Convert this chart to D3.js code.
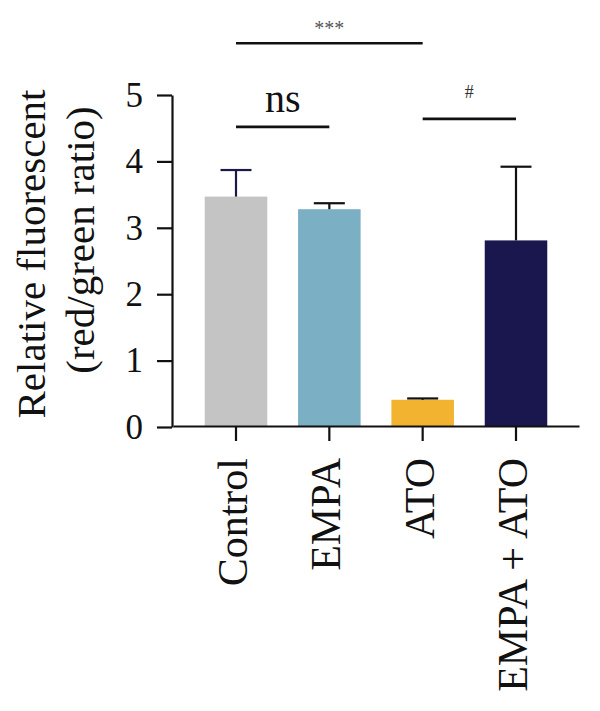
<!DOCTYPE html>
<html>
<head>
<meta charset="utf-8">
<script src="https://cdn.jsdelivr.net/npm/d3@7"></script>
<style>
  body { margin: 0; background: #fff; }
  svg { display: block; font-family: "Liberation Serif", "Times New Roman", serif; }
</style>
</head>
<body>
<div class="chart"></div>
<script>
var groups = ["Control", "EMPA", "ATO", "EMPA + ATO"];
var means = [3.47, 3.28, 0.41, 2.81];
var errors = [0.40, 0.09, 0.02, 1.11];
var colors = ["#c4c4c4", "#7bafc4", "#f2b430", "#1a174f"];
var errColors = ["#1a1a4a", "#111", "#111", "#111"];
var yTicks = [0, 1, 2, 3, 4, 5];

// significance brackets: from group, to group, level (y units), label
var sigFrom = ["Control", "Control", "ATO"];
var sigTo = ["ATO", "EMPA", "EMPA + ATO"];
var sigLevel = [5.78, 4.52, 4.64];
var sigLabel = ["***", "ns", "#"];

var width = 600, height = 711;

var svg = d3.select(".chart")
  .append("svg")
  .attr("width", width)
  .attr("height", height);

var x = d3.scaleBand()
  .domain(groups)
  .range([173, 579])
  .paddingInner(0.33)
  .paddingOuter(0.34);

var y = d3.scaleLinear()
  .domain([0, 5])
  .range([427, 95]);

// bars
svg.selectAll("rect.bar")
  .data(groups)
  .enter()
  .append("rect")
  .classed("bar", true)
  .attr("x", d => x(d))
  .attr("width", x.bandwidth())
  .attr("y", (d, i) => y(means[i]))
  .attr("height", (d, i) => y(0) - y(means[i]))
  .attr("fill", (d, i) => colors[i]);

// error bars (upper only)
var capW = 31;
var err = svg.selectAll("g.err")
  .data(groups)
  .enter()
  .append("g")
  .classed("err", true)
  .attr("stroke", (d, i) => errColors[i])
  .attr("stroke-width", 2.2);

err.append("line")
  .attr("x1", d => x(d) + x.bandwidth() / 2)
  .attr("x2", d => x(d) + x.bandwidth() / 2)
  .attr("y1", (d, i) => y(means[i]))
  .attr("y2", (d, i) => y(means[i] + errors[i]));

err.append("line")
  .attr("x1", d => x(d) + x.bandwidth() / 2 - capW / 2)
  .attr("x2", d => x(d) + x.bandwidth() / 2 + capW / 2)
  .attr("y1", (d, i) => y(means[i] + errors[i]))
  .attr("y2", (d, i) => y(means[i] + errors[i]));

// y axis
var yAxis = svg.append("g")
  .attr("transform", "translate(172,0)")
  .call(d3.axisLeft(y)
    .tickValues(yTicks)
    .tickFormat(d3.format("d"))
    .tickSize(15)
    .tickSizeOuter(0)
    .tickPadding(14));

yAxis.selectAll("path, line")
  .attr("stroke", "#111")
  .attr("stroke-width", 2.2);
yAxis.selectAll("text")
  .attr("font-size", 35)
  .attr("font-family", "Liberation Serif, serif")
  .attr("fill", "#111");

// x axis
var xAxis = svg.append("g")
  .attr("transform", "translate(0,426)")
  .call(d3.axisBottom(x)
    .tickSize(15)
    .tickSizeOuter(0));

xAxis.selectAll("path, line")
  .attr("stroke", "#111")
  .attr("stroke-width", 2.2);
xAxis.selectAll("text")
  .attr("font-size", 42)
  .attr("font-family", "Liberation Serif, serif")
  .attr("fill", "#111")
  .attr("transform", "rotate(-90)")
  .attr("text-anchor", "end")
  .attr("x", -32)
  .attr("y", 0)
  .attr("dy", "0.26em");

// y axis title
var yTitle = svg.append("g")
  .attr("font-size", 41)
  .attr("fill", "#111")
  .attr("text-anchor", "middle");

yTitle.append("text")
  .attr("transform", "translate(45,254) rotate(-90)")
  .text("Relative fluorescent");

yTitle.append("text")
  .attr("transform", "translate(94,240) rotate(-90)")
  .text("(red/green ratio)");

// significance brackets
var cx = d => x(d) + x.bandwidth() / 2;
var labelSize = [20, 40, 18];
var labelGap = [8, 15, 21];
var labelColor = ["#555", "#111", "#333"];

var sig = svg.selectAll("g.sig")
  .data(sigLabel)
  .enter()
  .append("g")
  .classed("sig", true);

sig.append("line")
  .attr("x1", (d, i) => cx(sigFrom[i]))
  .attr("x2", (d, i) => cx(sigTo[i]))
  .attr("y1", (d, i) => y(sigLevel[i]))
  .attr("y2", (d, i) => y(sigLevel[i]))
  .attr("stroke", "#111")
  .attr("stroke-width", 2.6);

sig.append("text")
  .attr("x", (d, i) => (cx(sigFrom[i]) + cx(sigTo[i])) / 2)
  .attr("y", (d, i) => y(sigLevel[i]) - labelGap[i])
  .attr("text-anchor", "middle")
  .attr("font-size", (d, i) => labelSize[i])
  .attr("fill", (d, i) => labelColor[i])
  .text(d => d);
</script>
</body>
</html>
